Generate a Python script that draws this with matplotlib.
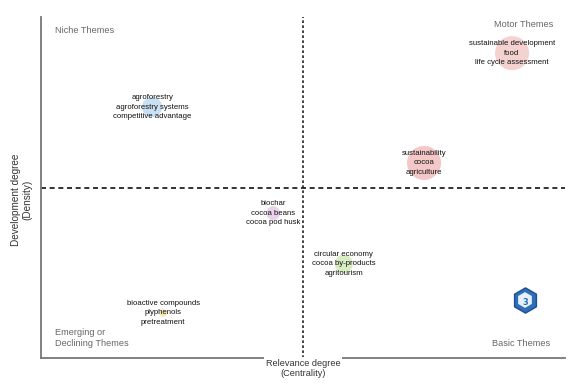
import matplotlib
matplotlib.use("Agg")
import matplotlib.pyplot as plt

# Data (normalized centrality / density)
themes = [
    "agroforestry\nagroforestry systems\ncompetitive advantage",
    "sustainable development\nfood\nlife cycle assessment",
    "sustainability\ncocoa\nagriculture",
    "biochar\ncocoa beans\ncocoa pod husk",
    "circular economy\ncocoa by-products\nagritourism",
    "bioactive compounds\nplyphenols\npretreatment",
]
centrality = [0.212, 0.899, 0.731, 0.443, 0.578, 0.233]
density = [0.736, 0.894, 0.572, 0.425, 0.276, 0.132]
bubble_size = [210, 600, 600, 100, 170, 30]
colors = ["#c9e0f2", "#f3d2d0", "#f4c8c8", "#ead3ea", "#d9edc3", "#f4eab0"]

quadrants = ["Niche Themes", "Motor Themes", "Emerging or\nDeclining Themes", "Basic Themes"]

FONT = ["Liberation Sans Narrow", "Liberation Sans", "DejaVu Sans"]

fig = plt.figure(figsize=(5.76, 3.88), dpi=100)
ax = fig.add_axes([41/576, 1 - 358/388, 524/576, 341/388])
ax.set_xlim(0, 1)
ax.set_ylim(0, 1)

ax.scatter(centrality, density, s=bubble_size, c=colors, edgecolors="none", zorder=2)
for x, y, t in zip(centrality, density, themes):
    ax.text(x, y, t, ha="center", va="center", fontsize=5.6, family=FONT,
            color="#111111", linespacing=1.45, zorder=3)

# quadrant separators
ax.axhline(0.5, color="#111111", lw=1.2, ls=(0, (3, 2.2)), zorder=1)
ax.axvline(0.5, color="#222222", lw=1.2, ls=(0, (1.6, 1.4)), zorder=1)

# quadrant labels
qc = "#666666"
ax.text(0.027, 0.975, quadrants[0], ha="left", va="top", fontsize=6.6, family=FONT, color=qc)
ax.text(0.978, 0.99, quadrants[1], ha="right", va="top", fontsize=6.6, family=FONT, color=qc)
ax.text(0.027, 0.03, quadrants[2], ha="left", va="bottom", fontsize=6.6, family=FONT, color=qc,
        linespacing=1.2)
ax.text(0.972, 0.03, quadrants[3], ha="right", va="bottom", fontsize=6.6, family=FONT, color=qc)

# spines
for s in ["top", "right"]:
    ax.spines[s].set_visible(False)
for s in ["left", "bottom"]:
    ax.spines[s].set_color("#777777")
    ax.spines[s].set_linewidth(1.3)
ax.set_xticks([])
ax.set_yticks([])

# axis labels
ax.text(0.5, -0.003, "Relevance degree\n(Centrality)", transform=ax.transAxes,
        ha="center", va="top", fontsize=6.6, family=FONT, color="#333333", linespacing=1.2,
        bbox=dict(facecolor="white", edgecolor="none", pad=1.2), zorder=5)
fig.text(22/576, 1 - 200/388, "Development degree\n(Density)", rotation=90,
         ha="center", va="center", fontsize=7.2, family=FONT, color="#333333", linespacing=1.2)

# logo
lx, ly = (525 - 41) / 524, (358 - 300) / 341
ax.scatter([lx], [ly], s=330, marker="h", facecolor="#2f6fb8", edgecolor="#1f4f90",
           lw=1.0, transform=ax.transAxes, zorder=4)
ax.scatter([lx], [ly], s=130, marker="h", facecolor="#e6f0fa", edgecolor="none",
           transform=ax.transAxes, zorder=5)
ax.text(lx, ly - 0.008, "3", transform=ax.transAxes, ha="center", va="center",
        fontsize=6, color="#2f6fb8", fontweight="bold", zorder=6)

fig.savefig("out.png", dpi=100)
